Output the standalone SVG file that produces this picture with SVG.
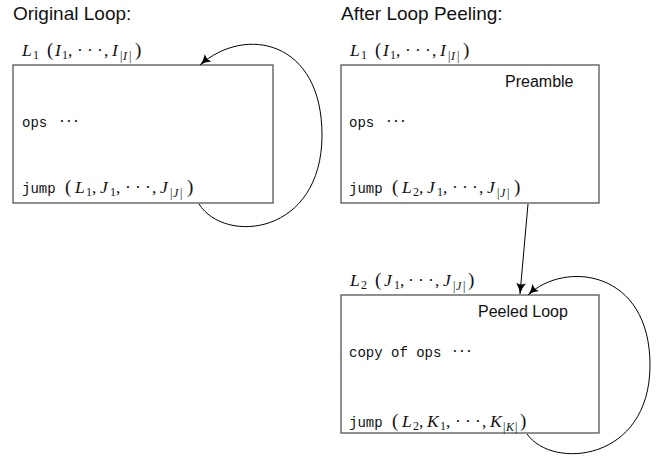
<svg xmlns="http://www.w3.org/2000/svg" width="656" height="460" viewBox="0 0 656 460">
<style>
.box{fill:#fff;stroke:#555;stroke-width:1.3}
.title{font-family:"Liberation Sans",Arial,sans-serif;font-size:19px;fill:#111}
.tag{font-family:"Liberation Sans",Arial,sans-serif;font-size:16px;fill:#111}
.tt{font-family:"Liberation Mono","Courier New",monospace;font-size:14px;fill:#111}
.m{font-family:"Liberation Serif","Times New Roman",serif;font-size:17.5px;fill:#111}
.i{font-style:italic}
.s{font-size:12px}
.p{font-size:19px}
.c{fill:none;stroke:#000;stroke-width:1}
</style>
<defs>
<marker id="ah" viewBox="0 0 12 10" refX="11" refY="5" markerWidth="12" markerHeight="10" markerUnits="userSpaceOnUse" orient="auto">
<path d="M0,0 Q5,4 11,5 Q5,6 0,10 Q3,5 0,0 Z" fill="#000"/>
</marker>
</defs>
<text class="title" x="13" y="20">Original Loop:</text>
<text class="title" x="341" y="20">After Loop Peeling:</text>
<g id="orig">
<rect class="box" x="13" y="65" width="260" height="138"/>
<text class="m" y="56"><tspan class="i" x="22">L</tspan><tspan class="s" x="33" y="59">1</tspan><tspan class="p" x="47" y="56">(</tspan><tspan class="i" x="55">I</tspan><tspan class="s" x="62" y="59">1</tspan><tspan x="68" y="56">,</tspan><tspan x="77">·</tspan><tspan x="87">·</tspan><tspan x="97">·</tspan><tspan x="104">,</tspan><tspan class="i" x="112">I</tspan><tspan class="s" x="120" y="60">|</tspan><tspan class="s i" x="123" y="60">I</tspan><tspan class="s" x="129" y="60">|</tspan><tspan class="p" x="135" y="56">)</tspan></text>
<text class="tt" x="22" y="127">ops</text>
<text class="m" y="127"><tspan x="59">·</tspan><tspan x="66">·</tspan><tspan x="73">·</tspan></text>
<text class="tt" x="22" y="193">jump</text>
<text class="m" y="193"><tspan class="p" x="65">(</tspan><tspan class="i" x="75">L</tspan><tspan class="s" x="86" y="196">1</tspan><tspan x="92" y="193">,</tspan><tspan class="i" x="100">J</tspan><tspan class="s" x="110" y="196">1</tspan><tspan x="116" y="193">,</tspan><tspan x="125">·</tspan><tspan x="135">·</tspan><tspan x="145">·</tspan><tspan x="152">,</tspan><tspan class="i" x="160">J</tspan><tspan class="s" x="170" y="197">|</tspan><tspan class="s i" x="173" y="197">J</tspan><tspan class="s" x="180" y="197">|</tspan><tspan class="p" x="187" y="193">)</tspan></text>
</g>
<g id="preamble">
<rect class="box" x="341" y="65" width="258" height="138"/>
<text class="m" y="56"><tspan class="i" x="350">L</tspan><tspan class="s" x="361" y="59">1</tspan><tspan class="p" x="375" y="56">(</tspan><tspan class="i" x="383">I</tspan><tspan class="s" x="390" y="59">1</tspan><tspan x="396" y="56">,</tspan><tspan x="405">·</tspan><tspan x="415">·</tspan><tspan x="425">·</tspan><tspan x="432">,</tspan><tspan class="i" x="440">I</tspan><tspan class="s" x="448" y="60">|</tspan><tspan class="s i" x="451" y="60">I</tspan><tspan class="s" x="457" y="60">|</tspan><tspan class="p" x="463" y="56">)</tspan></text>
<text class="tag" x="505" y="87">Preamble</text>
<text class="tt" x="349" y="127">ops</text>
<text class="m" y="127"><tspan x="386">·</tspan><tspan x="393">·</tspan><tspan x="400">·</tspan></text>
<text class="tt" x="349" y="193">jump</text>
<text class="m" y="193"><tspan class="p" x="392">(</tspan><tspan class="i" x="402">L</tspan><tspan class="s" x="413" y="196">2</tspan><tspan x="419" y="193">,</tspan><tspan class="i" x="427">J</tspan><tspan class="s" x="437" y="196">1</tspan><tspan x="443" y="193">,</tspan><tspan x="452">·</tspan><tspan x="462">·</tspan><tspan x="472">·</tspan><tspan x="479">,</tspan><tspan class="i" x="487">J</tspan><tspan class="s" x="497" y="197">|</tspan><tspan class="s i" x="500" y="197">J</tspan><tspan class="s" x="507" y="197">|</tspan><tspan class="p" x="514" y="193">)</tspan></text>
</g>
<g id="peeled">
<rect class="box" x="341" y="295" width="258" height="138"/>
<text class="m" y="286"><tspan class="i" x="350">L</tspan><tspan class="s" x="361" y="289">2</tspan><tspan class="p" x="375" y="286">(</tspan><tspan class="i" x="384">J</tspan><tspan class="s" x="394" y="289">1</tspan><tspan x="400" y="286">,</tspan><tspan x="408">·</tspan><tspan x="418">·</tspan><tspan x="428">·</tspan><tspan x="435">,</tspan><tspan class="i" x="443">J</tspan><tspan class="s" x="453" y="290">|</tspan><tspan class="s i" x="456" y="290">J</tspan><tspan class="s" x="463" y="290">|</tspan><tspan class="p" x="468" y="286">)</tspan></text>
<text class="tag" x="478" y="317">Peeled Loop</text>
<text class="tt" x="349" y="357">copy of ops</text>
<text class="m" y="357"><tspan x="452">·</tspan><tspan x="459">·</tspan><tspan x="466">·</tspan></text>
<text class="tt" x="349" y="427">jump</text>
<text class="m" y="427"><tspan class="p" x="392">(</tspan><tspan class="i" x="402">L</tspan><tspan class="s" x="413" y="430">2</tspan><tspan x="419" y="427">,</tspan><tspan class="i" x="427">K</tspan><tspan class="s" x="440" y="430">1</tspan><tspan x="446" y="427">,</tspan><tspan x="455">·</tspan><tspan x="465">·</tspan><tspan x="475">·</tspan><tspan x="482">,</tspan><tspan class="i" x="490">K</tspan><tspan class="s" x="503" y="431">|</tspan><tspan class="s i" x="506" y="431">K</tspan><tspan class="s" x="515" y="431">|</tspan><tspan class="p" x="520" y="427">)</tspan></text>
</g>
<g id="connectors">
<path class="c" d="M199,204 C225,245 322,235 322,135 C322,40 245,25 200,65" marker-end="url(#ah)"/>
<path class="c" d="M528,204 L520,294" marker-end="url(#ah)"/>
<path class="c" d="M527,434 C552,470 650,462 650,365 C650,270 565,260 528,295" marker-end="url(#ah)"/>
</g>
</svg>
